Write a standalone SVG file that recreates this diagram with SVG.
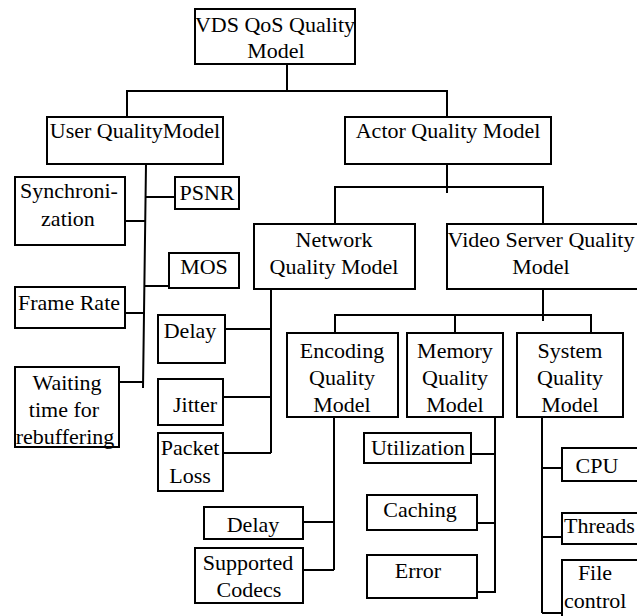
<svg xmlns="http://www.w3.org/2000/svg" width="637" height="616" viewBox="0 0 637 616">
<style>
rect{fill:#fff;stroke:#000;stroke-width:2}
text{font-family:"Liberation Serif","Times New Roman",serif;font-size:22px;fill:#000}
.m{text-anchor:middle}
#connectors path{fill:none;stroke:#000;stroke-width:2}
</style>
<rect x="0" y="0" width="637" height="616" style="stroke:none;fill:#fff"/>
<g id="connectors">
<path d="M287,64 V92 M127,117 V91 H447 V117"/>
<path d="M447,160 V193 M335,224 V187 H543 V224"/>
<path d="M146,164 L143,388 M125,221 H146 M146,197 H175 M145,286 H169 M120,313 H144 M119,382 H143"/>
<path d="M271,289 V453 M225,329 H271 M223,397 H271 M223,453 H271"/>
<path d="M543,289 V321 M335,333 V315 H591 V333 M455,315 V333"/>
<path d="M334,417 V570 M303,522 H334 M303,570 H334"/>
<path d="M495,417 V593 M471,454 H495 M477,523 H495 M477,592 H495"/>
<path d="M542,417 V613 M542,468 H562 M542,537 H562 M542,613 H562"/>
</g>
<g id="vds"><rect x="195" y="9" width="160" height="55"/><text class="m" x="275" y="32">VDS QoS Quality</text><text class="m" x="276" y="58">Model</text></g>
<g id="user"><rect x="47" y="117" width="176" height="47"/><text class="m" x="135" y="138">User QualityModel</text></g>
<g id="actor"><rect x="345" y="117" width="206" height="47"/><text class="m" x="448" y="138">Actor Quality Model</text></g>
<g id="network"><rect x="254" y="224" width="161" height="65"/><text class="m" x="334" y="247">Network</text><text class="m" x="334" y="274">Quality Model</text></g>
<g id="videoserver"><rect x="447" y="224" width="200" height="65"/><text class="m" x="541" y="247">Video Server Quality</text><text class="m" x="541" y="274">Model</text></g>
<g id="sync"><rect x="15" y="177" width="110" height="68"/><text class="m" x="69" y="198">Synchroni-</text><text class="m" x="68" y="226">zation</text></g>
<g id="psnr"><rect x="175" y="177" width="64" height="32"/><text class="m" x="207" y="200">PSNR</text></g>
<g id="mos"><rect x="169" y="253" width="70" height="35"/><text class="m" x="204" y="274">MOS</text></g>
<g id="framerate"><rect x="15" y="287" width="110" height="41"/><text class="m" x="69" y="310">Frame Rate</text></g>
<g id="waiting"><rect x="15" y="367" width="104" height="80"/><text class="m" x="67" y="390">Waiting</text><text class="m" x="64" y="417">time for</text><text class="m" x="65" y="444">rebuffering</text></g>
<g id="netdelay"><rect x="158" y="315" width="67" height="48"/><text class="m" x="190" y="338">Delay</text></g>
<g id="jitter"><rect x="158" y="379" width="65" height="46"/><text class="m" x="195" y="412">Jitter</text></g>
<g id="packetloss"><rect x="158" y="433" width="65" height="58"/><text class="m" x="190" y="455">Packet</text><text class="m" x="190" y="483">Loss</text></g>
<g id="encoding"><rect x="287" y="333" width="111" height="84"/><text class="m" x="342" y="358">Encoding</text><text class="m" x="342" y="385">Quality</text><text class="m" x="342" y="412">Model</text></g>
<g id="memory"><rect x="407" y="333" width="96" height="84"/><text class="m" x="455" y="358">Memory</text><text class="m" x="455" y="385">Quality</text><text class="m" x="455" y="412">Model</text></g>
<g id="system"><rect x="517" y="333" width="106" height="84"/><text class="m" x="570" y="358">System</text><text class="m" x="570" y="385">Quality</text><text class="m" x="570" y="412">Model</text></g>
<g id="utilization"><rect x="364" y="433" width="107" height="30"/><text class="m" x="418" y="455">Utilization</text></g>
<g id="caching"><rect x="367" y="495" width="110" height="35"/><text class="m" x="420" y="517">Caching</text></g>
<g id="error"><rect x="367" y="555" width="110" height="43"/><text class="m" x="418" y="578">Error</text></g>
<g id="encdelay"><rect x="204" y="507" width="99" height="32"/><text class="m" x="253" y="532">Delay</text></g>
<g id="codecs"><rect x="195" y="548" width="108" height="55"/><text class="m" x="248" y="570">Supported</text><text class="m" x="249" y="597">Codecs</text></g>
<g id="cpu"><rect x="562" y="448" width="100" height="33"/><text class="m" x="597" y="473">CPU</text></g>
<g id="threads"><rect x="562" y="513" width="100" height="31"/><text x="564" y="533">Threads</text></g>
<g id="filecontrol"><rect x="562" y="560" width="100" height="70"/><text class="m" x="595" y="580">File</text><text x="564" y="608">control</text></g>
</svg>
